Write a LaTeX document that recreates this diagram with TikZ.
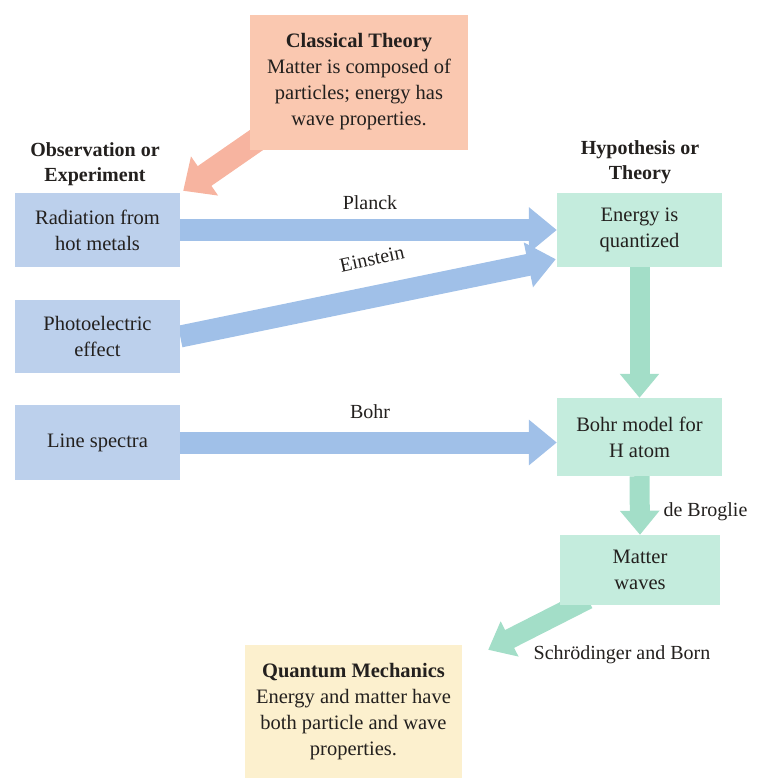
\documentclass[tikz,border=0pt]{standalone}
\usepackage{fontspec}
\setmainfont{Liberation Serif}
\usetikzlibrary{arrows.meta,calc,backgrounds}
\definecolor{bluebox}{RGB}{188,208,236}
\definecolor{bluearr}{RGB}{160,192,232}
\definecolor{greenbox}{RGB}{196,236,221}
\definecolor{greenarr}{RGB}{163,222,200}
\definecolor{orangebox}{RGB}{250,200,176}
\definecolor{orangearr}{RGB}{247,180,160}
\definecolor{yellowbox}{RGB}{252,240,206}
\definecolor{ink}{RGB}{35,32,30}
\tikzset{
  box/.style={inner sep=0pt, align=center, text=ink, font=\fontsize{20.5}{26}\selectfont},
  bluenode/.style={box, fill=bluebox, minimum width=165pt},
  greennode/.style={box, fill=greenbox, minimum width=165pt},
  hdr/.style={align=center, text=ink, font=\fontsize{20}{25}\selectfont\bfseries},
  lbl/.style={text=ink, font=\fontsize{20}{24}\selectfont},
  barrow/.style={draw=bluearr, line width=22pt, -{Triangle[length=28pt,width=44pt]}},
  garrow/.style={draw=greenarr, line width=20pt, -{Triangle[length=24pt,width=38pt]}},
  oarrow/.style={draw=orangearr, line width=24pt, -{Triangle[length=26pt,width=46pt]}},
}
\begin{document}
\begin{tikzpicture}[x=1pt,y=-1pt]
\useasboundingbox (0,0) rectangle (756,782);
% nodes
\node[box, fill=orangebox, minimum width=218pt, minimum height=135pt] (cls) at (359,82)
  {\textbf{Classical Theory}\\Matter is composed of\\particles; energy has\\wave properties.};
\node[hdr] (obs) at (95,164) {Observation or\\Experiment};
\node[hdr] (hyp) at (640,162) {Hypothesis or\\Theory};
\node[bluenode, minimum height=74pt] (rad) at (97.5,230) {Radiation from\\hot metals};
\node[bluenode, minimum height=73pt] (pe) at (97.5,336.5) {Photoelectric\\effect};
\node[bluenode, minimum height=75pt] (ls) at (97.5,442.5) {Line spectra};
\node[greennode, minimum height=74pt] (enq) at (639.5,230) {Energy is\\quantized};
\node[greennode, minimum height=78pt] (bohr) at (639.5,437) {Bohr model for\\H atom};
\node[greennode, minimum width=160pt, minimum height=70pt] (mw) at (640,570) {Matter\\waves};
\node[box, fill=yellowbox, minimum width=217pt, minimum height=133pt] (qm) at (353.5,711.5)
  {\textbf{Quantum Mechanics}\\Energy and matter have\\both particle and wave\\properties.};
% labels
\node[lbl] (planck) at (370,203) {Planck};
\node[lbl, rotate=12.3] (einstein) at (372,259) {Einstein};
\node[lbl] (bohrl) at (370,412) {Bohr};
\node[lbl, anchor=west] (debroglie) at (660,512) {de Broglie};
\node[lbl] (sb) at (622,655) {Schrödinger and Born};
% arrows
\begin{pgfonlayer}{background}
\draw[oarrow] ($(cls.south west)+(10,-12)$) -- ($(rad.north east)+(3,-2)$);
\draw[barrow] (rad.east) -- (enq.west);
\draw[barrow] (pe.east) -- ($(enq.south west)+(-1,-8)$);
\draw[barrow] (ls.east) -- (bohr.west |- ls.east);
\draw[garrow] (enq.south) -- (bohr.north);
\draw[garrow] (bohr.south) -- (mw.north);
\draw[garrow] ($(mw.south west)+(28,-6)$) -- ($(qm.north east)+(26,5)$);
\end{pgfonlayer}
\end{tikzpicture}
\end{document}
